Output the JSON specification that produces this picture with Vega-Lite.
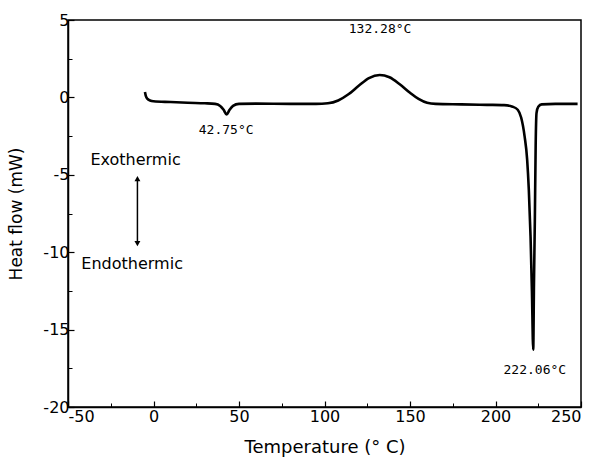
{
  "$schema": "https://vega.github.io/schema/vega-lite/v6.json",
  "width": 513,
  "height": 387,
  "autosize": {"type": "none"},
  "padding": {"left": 68, "top": 20, "right": 14, "bottom": 52},
  "background": "white",
  "config": {
    "view": {"stroke": "black", "strokeWidth": 1.5},
    "axis": {"domainColor": "black", "domainWidth": 1.5, "tickColor": "black", "labelColor": "black", "titleColor": "black", "labelFont": "DejaVu Sans", "titleFont": "DejaVu Sans", "labelFontSize": 16, "titleFontSize": 17, "titleFontWeight": "normal", "grid": false}
  },
  "datasets": {
    "curve": [
      {"t": -5, "h": 0.35}, {"t": -4.5, "h": 0.1}, {"t": -3.5, "h": -0.1}, {"t": -2, "h": -0.2},
      {"t": 0, "h": -0.25}, {"t": 10, "h": -0.3}, {"t": 20, "h": -0.35}, {"t": 30, "h": -0.38},
      {"t": 36, "h": -0.42}, {"t": 39, "h": -0.55}, {"t": 41, "h": -0.8}, {"t": 42.75, "h": -1.1},
      {"t": 44.5, "h": -0.8}, {"t": 46.5, "h": -0.55}, {"t": 50, "h": -0.42}, {"t": 60, "h": -0.4},
      {"t": 80, "h": -0.42}, {"t": 95, "h": -0.42}, {"t": 102, "h": -0.38}, {"t": 108, "h": -0.2},
      {"t": 114, "h": 0.2}, {"t": 120, "h": 0.75}, {"t": 126, "h": 1.25}, {"t": 132.3, "h": 1.45},
      {"t": 138, "h": 1.3}, {"t": 144, "h": 0.85}, {"t": 150, "h": 0.3}, {"t": 155, "h": -0.1},
      {"t": 160, "h": -0.35}, {"t": 165, "h": -0.42}, {"t": 180, "h": -0.45}, {"t": 195, "h": -0.48},
      {"t": 205, "h": -0.5}, {"t": 210, "h": -0.6}, {"t": 213, "h": -0.8}, {"t": 215, "h": -1.3},
      {"t": 217, "h": -2.5}, {"t": 218.5, "h": -4}, {"t": 219.5, "h": -6}, {"t": 220.5, "h": -9},
      {"t": 221.3, "h": -12.5}, {"t": 222.06, "h": -16.3}, {"t": 222.5, "h": -12}, {"t": 223, "h": -8},
      {"t": 223.5, "h": -3}, {"t": 224, "h": -1}, {"t": 225, "h": -0.6}, {"t": 227, "h": -0.45},
      {"t": 235, "h": -0.42}, {"t": 248, "h": -0.42}
    ],
    "labels": [
      {"t": 42.5, "h": -2.1, "label": "42.75°C"},
      {"t": 132.5, "h": 4.45, "label": "132.28°C"},
      {"t": 223, "h": -17.6, "label": "222.06°C"}
    ],
    "words": [
      {"t": -10.5, "h": -4.05, "label": "Exothermic"},
      {"t": -12.5, "h": -10.75, "label": "Endothermic"}
    ],
    "arrow": [{"t": -9.4, "h1": -5.3, "h2": -9.4}],
    "heads": [
      {"t": -9.4, "h": -5.25, "shape": "triangle-up"},
      {"t": -9.4, "h": -9.45, "shape": "triangle-down"}
    ]
  },
  "layer": [
    {
      "data": {"name": "curve"},
      "mark": {"type": "line", "color": "black", "strokeWidth": 2.6, "interpolate": "monotone"},
      "encoding": {
        "x": {"field": "t", "type": "quantitative", "scale": {"domain": [-50, 250], "nice": false}, "axis": {"title": "Temperature (° C)", "titleFontSize": 18, "orient": "bottom", "values": [-50, 0, 50, 100, 150, 200, 250], "labelExpr": "toString(datum.value)", "tickSize": -6, "tickWidth": 1.2, "labelPadding": 7, "titleY": 31}},
        "y": {"field": "h", "type": "quantitative", "scale": {"domain": [-20, 5], "nice": false}, "axis": {"title": "Heat flow (mW)", "orient": "left", "values": [-20, -15, -10, -5, 0, 5], "labelExpr": "toString(datum.value)", "tickSize": -6, "tickWidth": 1.2, "labelPadding": 5, "titleX": -43}}
      }
    },
    {
      "data": {"name": "labels"},
      "mark": {"type": "text", "font": "DejaVu Sans Mono", "fontSize": 13, "color": "black"},
      "encoding": {
        "x": {"field": "t", "type": "quantitative", "axis": {"values": [-25, 25, 75, 125, 175, 225], "labels": false, "tickSize": -4, "domain": false, "title": null, "orient": "bottom"}},
        "y": {"field": "h", "type": "quantitative", "axis": {"values": [-17.5, -12.5, -7.5, -2.5, 2.5], "labels": false, "tickSize": -4, "domain": false, "title": null, "orient": "left"}},
        "text": {"field": "label"}
      }
    },
    {
      "data": {"name": "words"},
      "mark": {"type": "text", "font": "DejaVu Sans", "fontSize": 16, "color": "black"},
      "encoding": {
        "x": {"field": "t", "type": "quantitative", "axis": null},
        "y": {"field": "h", "type": "quantitative", "axis": null},
        "text": {"field": "label"}
      }
    },
    {
      "data": {"name": "arrow"},
      "mark": {"type": "rule", "color": "black", "strokeWidth": 1.5},
      "encoding": {
        "x": {"field": "t", "type": "quantitative", "axis": null},
        "y": {"field": "h1", "type": "quantitative", "axis": null},
        "y2": {"field": "h2"}
      }
    },
    {
      "data": {"name": "heads"},
      "mark": {"type": "point", "filled": true, "color": "black", "size": 35, "opacity": 1},
      "encoding": {
        "x": {"field": "t", "type": "quantitative", "axis": null},
        "y": {"field": "h", "type": "quantitative", "axis": null},
        "shape": {"field": "shape", "type": "nominal", "scale": null}
      }
    }
  ],
  "resolve": {"axis": {"x": "independent", "y": "independent"}}
}
